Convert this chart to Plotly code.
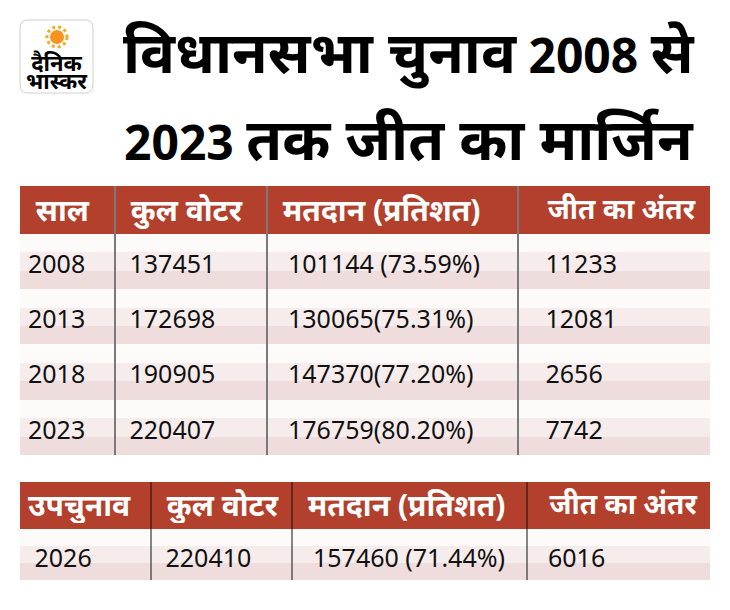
import re
import plotly.graph_objects as go

# ---------------- DATA ----------------
title_line1 = "विधानसभा चुनाव 2008 से"
title_line2 = "2023 तक जीत का मार्जिन"
logo_line1 = "दैनिक"
logo_line2 = "भास्कर"

headers_main = ["साल", "कुल वोटर", "मतदान (प्रतिशत)", "जीत का अंतर"]
years = ["2008", "2013", "2018", "2023"]
total_voters = ["137451", "172698", "190905", "220407"]
turnout = ["101144 (73.59%)", "130065(75.31%)", "147370(77.20%)", "176759(80.20%)"]
margin = ["11233", "12081", "2656", "7742"]

headers_bye = ["उपचुनाव", "कुल वोटर", "मतदान (प्रतिशत)", "जीत का अंतर"]
bye_year = ["2026"]
bye_voters = ["220410"]
bye_turnout = ["157460 (71.44%)"]
bye_margin = ["6016"]

# ---------------- STYLE ----------------
W, H = 730, 610
FONT = "Noto Sans, Noto Sans Devanagari, sans-serif"
RED = "#B3402C"
SHADES = ["#FDFAFA", "#F6ECEC", "#EFDDDD"]   # top -> bottom of each row
CLEAR = "rgba(0,0,0,0)"
NB = "\u00a0"
SUB = len(SHADES)
HEAD_SIZES = [30, 30, 30, 28]


def px(x):
    return x / W


def py(y):
    return 1 - y / H


def indent(values, n):
    # non-breaking spaces: indent the text and stop the table from wrapping it
    return [NB * n + v.replace(" ", NB) for v in values]


def big_deva(text, size):
    # the fallback devanagari face runs small, so bump those runs only
    return re.sub(r"([\u0900-\u097F]+(?:\s+[\u0900-\u097F]+)*)",
                  r"<span style='font-size:%dpx'>\1</span>" % size, text)


def add_table(fig, top, left, widths, head_h, row_h, headers, cols,
              head_pads, cell_pads, head_shift, text_shift):
    n_rows = len(cols[0])
    bottom = top + head_h + row_h * n_rows
    right = left + sum(widths)
    dom_x = [px(left), px(right)]
    # background layer: red header + row bands shaded top->bottom
    fig.add_trace(go.Table(
        domain=dict(x=dom_x, y=[py(bottom), py(top)]),
        columnwidth=widths,
        header=dict(values=[""] * len(widths), fill_color=RED,
                    line_width=0, line_color=RED, height=head_h),
        cells=dict(values=[[""] * (n_rows * SUB) for _ in widths],
                   fill_color=[SHADES * n_rows for _ in widths],
                   line_width=0, line_color=CLEAR, height=row_h / SUB),
    ))
    # header text
    head_vals = ["<b>" + NB * p + h.replace(" ", NB) + "</b>"
                 for h, p in zip(headers, head_pads)]
    fig.add_trace(go.Table(
        domain=dict(x=dom_x, y=[py(top + head_h + head_shift), py(top + head_shift)]),
        columnwidth=widths,
        header=dict(values=head_vals,
                    fill_color=CLEAR, line_width=0, line_color=CLEAR,
                    font=dict(family=FONT, size=HEAD_SIZES, color="white"),
                    align="left", height=head_h),
        cells=dict(values=[[] for _ in widths], fill_color=CLEAR, line_width=0),
    ))
    # body text, nudged down so it sits in the middle of each band
    fig.add_trace(go.Table(
        domain=dict(x=dom_x, y=[py(bottom + text_shift), py(top + text_shift)]),
        columnwidth=widths,
        header=dict(values=[""] * len(widths), fill_color=CLEAR,
                    line_width=0, line_color=CLEAR, height=head_h),
        cells=dict(values=[indent(c, p) for c, p in zip(cols, cell_pads)],
                   fill_color=CLEAR, line_width=0, line_color=CLEAR,
                   font=dict(family=FONT, size=25, color="#111111"),
                   align="left", height=row_h),
    ))
    return bottom


fig = go.Figure()

main_widths = [95, 152, 251, 192]
bye_widths = [131, 141, 235, 183]

main_bottom = add_table(fig, 186, 20, main_widths, 48, 55.25, headers_main,
                        [years, total_voters, turnout, margin],
                        [1, 1, 1, 3], [0, 1, 2, 3], -5, 12)
bye_bottom = add_table(fig, 482, 20, bye_widths, 47, 51, headers_bye,
                       [bye_year, bye_voters, bye_turnout, bye_margin],
                       [0, 1, 1, 2], [1, 1, 2, 2], -6, 11)

# column dividers
shapes = []
x = 20
for w in main_widths[:-1]:
    x += w
    shapes.append(dict(type="line", xref="paper", yref="paper",
                       x0=px(x), x1=px(x), y0=py(186), y1=py(main_bottom),
                       line=dict(color="#7a7a7a", width=2)))
x = 20
for w in bye_widths[:-1]:
    x += w
    shapes.append(dict(type="line", xref="paper", yref="paper",
                       x0=px(x), x1=px(x), y0=py(482), y1=py(bye_bottom),
                       line=dict(color="#111111", width=1)))

# logo: rounded box and sun
r = 8
x0, x1, y0, y1 = px(20), px(93), py(93), py(20)
rx, ry = px(r), r / H
logo_path = (f"M {x0 + rx},{y1} L {x1 - rx},{y1} Q {x1},{y1} {x1},{y1 - ry} "
             f"L {x1},{y0 + ry} Q {x1},{y0} {x1 - rx},{y0} L {x0 + rx},{y0} "
             f"Q {x0},{y0} {x0},{y0 + ry} L {x0},{y1 - ry} Q {x0},{y1} {x0 + rx},{y1} Z")
shapes.append(dict(type="path", xref="paper", yref="paper", path=logo_path,
                   line=dict(color="#d0d0d0", width=1), fillcolor="white"))
shapes.append(dict(type="circle", xref="paper", yref="paper",
                   x0=px(47), x1=px(67), y0=py(47), y1=py(27),
                   line=dict(color="#F9A825", width=3, dash="dot"), fillcolor=CLEAR))
shapes.append(dict(type="circle", xref="paper", yref="paper",
                   x0=px(50), x1=px(64), y0=py(44), y1=py(30),
                   line=dict(width=0), fillcolor="#F7941D"))


def label(text, x, y, size):
    return dict(text=text, x=px(x), y=py(y), xref="paper", yref="paper",
                xanchor="center", yanchor="middle", showarrow=False,
                font=dict(family=FONT, size=size, color="black"))


# logo words: small base size keeps the two lines tight, spans make the glyphs big
logo_text = "<b>%s<br>%s</b>" % tuple(
    "<span style='font-size:22px'>%s</span>" % t for t in (logo_line1, logo_line2))

annotations = [
    label("<b>" + big_deva(title_line1, 58) + "</b>", 409, 51, 48),
    label("<b>" + big_deva(title_line2, 58) + "</b>", 409, 138, 48),
    label(logo_text, 57, 71, 14),
]

fig.update_layout(
    width=W, height=H,
    margin=dict(l=0, r=0, t=0, b=0),
    paper_bgcolor="white",
    plot_bgcolor="white",
    shapes=shapes,
    annotations=annotations,
    showlegend=False,
)

fig.write_html("out.html", config={"displayModeBar": False},
               post_script="document.body.style.margin='0px';")
